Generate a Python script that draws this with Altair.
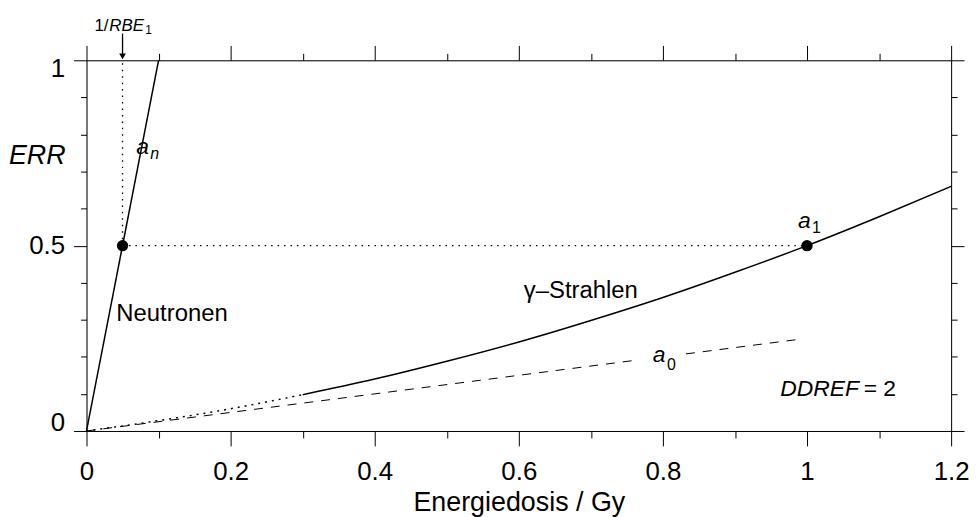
import altair as alt
import pandas as pd

FONT = "Liberation Sans"

# axis tick values
X_MAJOR = [0, 0.2, 0.4, 0.6, 0.8, 1.0, 1.2]
X_MINOR = [0.1, 0.3, 0.5, 0.7, 0.9, 1.1]
Y_MAJOR = [0, 0.5, 1]
Y_MINOR = [0.1, 0.2, 0.3, 0.4, 0.6, 0.7, 0.8, 0.9]

# neutron line
neutron_x = [0, 0.1]
neutron_y = [0, 1]

# gamma-ray curve (dotted low-dose part, solid part)
gamma_dot_x = [0, 0.1, 0.2, 0.3]
gamma_dot_y = [0, 0.028, 0.06, 0.098]
gamma_x = [0.3, 0.4, 0.5, 0.6, 0.7, 0.8, 0.9, 1.0, 1.1, 1.2]
gamma_y = [0.098, 0.14, 0.188, 0.24, 0.298, 0.36, 0.428, 0.5, 0.578, 0.66]

# linear term a0 (dashed, broken around its label)
a0_x = [0, 0.767, 0.832, 0.99]
a0_y = [0, 0.192, 0.208, 0.2475]
a0_seg = [1, 1, 2, 2]

# dotted guide lines
guide_x = [0.05, 0.05, 0.05, 1.0]
guide_y = [0.5, 1.0, 0.5, 0.5]
guide_seg = [1, 1, 2, 2]

# marked points
pt_x = [0.05, 1.0]
pt_y = [0.5, 0.5]

# arrow for 1/RBE1
arrow_x = [0.05, 0.05]
arrow_y = [1.072, 1.012]
arrowhead_x = [0.05]
arrowhead_y = [1.0]

# annotations (italic)
it_text = ["a", "n", "a", "a", "DDREF", "RBE", "ERR"]
it_x = [0.069, 0.0883, 0.9876, 0.786, 0.963, 0.0317, -0.029]
it_y = [0.748, 0.7346, 0.547, 0.185, 0.094, 1.078, 0.721]
it_size = [23, 16, 23, 23, 23, 17, 27]
it_align = ["left", "left", "left", "left", "left", "left", "right"]

# annotations (upright)
rm_text = ["1", "0", "Neutronen", "\u03b3\u2013Strahlen", "= 2", "1/", "1"]
rm_x = [1.0069, 0.8055, 0.0414, 0.607, 1.0786, 0.011, 0.0814]
rm_y = [0.5335, 0.1635, 0.2976, 0.359, 0.094, 1.078, 1.0697]
rm_size = [16, 16, 24, 24, 23, 17, 12]

XS = alt.Scale(domain=[0, 1.2], nice=False, zero=False)
YS = alt.Scale(domain=[0, 1], nice=False, zero=False)

common = dict(domainColor="black", tickColor="black", labelColor="black",
              titleColor="black", grid=False, domainWidth=1, tickWidth=1,
              labelFont=FONT, titleFont=FONT)

ax_x_major_b = alt.Axis(orient="bottom", values=X_MAJOR, tickSize=15, labelFontSize=26,
                        labelPadding=13, format="~g", labelFlush=False,
                        title="Energiedosis / Gy", titleFontSize=27, titleFontWeight="normal",
                        titleY=80, titleBaseline="alphabetic", **common)
ax_x_minor_b = alt.Axis(orient="bottom", values=X_MINOR, tickSize=7, labels=False,
                        domain=False, title=None, **common)
ax_x_major_t = alt.Axis(orient="top", values=X_MAJOR, tickSize=15, labels=False,
                        title=None, **common)
ax_x_minor_t = alt.Axis(orient="top", values=X_MINOR, tickSize=7, labels=False,
                        domain=False, title=None, **common)

ax_y_major_l = alt.Axis(orient="left", values=Y_MAJOR, tickSize=13, labelFontSize=26,
                        labelPadding=9, format="~g", labelFlush=True, labelFlushOffset=5,
                        title=None, **common)
ax_y_minor_l = alt.Axis(orient="left", values=Y_MINOR, tickSize=6, labels=False,
                        domain=False, title=None, **common)
ax_y_major_r = alt.Axis(orient="right", values=Y_MAJOR, tickSize=13, labels=False,
                        title=None, **common)
ax_y_minor_r = alt.Axis(orient="right", values=Y_MINOR, tickSize=6, labels=False,
                        domain=False, title=None, **common)


def enc(xaxis=None, yaxis=None):
    return dict(
        x=alt.X("x:Q", scale=XS, axis=xaxis),
        y=alt.Y("y:Q", scale=YS, axis=yaxis),
    )


neutron = alt.Chart(pd.DataFrame({"x": neutron_x, "y": neutron_y})).mark_line(
    color="black", strokeWidth=1.5).encode(**enc(ax_x_major_b, ax_y_major_l))

gamma = alt.Chart(pd.DataFrame({"x": gamma_x, "y": gamma_y})).mark_line(
    color="black", strokeWidth=1.5, interpolate="monotone").encode(**enc(ax_x_minor_b, ax_y_minor_l))

a0 = alt.Chart(pd.DataFrame({"x": a0_x, "y": a0_y, "s": a0_seg})).mark_line(
    color="black", strokeWidth=1, strokeDash=[9, 8]).encode(
    detail="s:N", **enc(ax_x_major_t, ax_y_major_r))

gamma_dot = alt.Chart(pd.DataFrame({"x": gamma_dot_x, "y": gamma_dot_y})).mark_line(
    color="black", strokeWidth=1.5, strokeDash=[2, 5], interpolate="monotone").encode(
    **enc(ax_x_minor_t, ax_y_minor_r))

guides = alt.Chart(pd.DataFrame({"x": guide_x, "y": guide_y, "s": guide_seg})).mark_line(
    color="black", strokeWidth=1.3, strokeDash=[1.5, 5]).encode(detail="s:N", **enc())

points = alt.Chart(pd.DataFrame({"x": pt_x, "y": pt_y})).mark_circle(
    color="black", opacity=1, size=130).encode(**enc())

arrow = alt.Chart(pd.DataFrame({"x": arrow_x, "y": arrow_y})).mark_line(
    color="black", strokeWidth=1.3).encode(**enc())

arrowhead = alt.Chart(pd.DataFrame({"x": arrowhead_x, "y": arrowhead_y})).mark_point(
    shape="triangle-down", filled=True, color="black", opacity=1, size=45, yOffset=-4).encode(**enc())

it_df = pd.DataFrame({"x": it_x, "y": it_y, "t": it_text, "fs": it_size, "al": it_align})
it_left = alt.Chart(it_df[it_df["al"] == "left"]).mark_text(
    align="left", baseline="alphabetic", font=FONT, fontStyle="italic", color="black").encode(
    text="t:N", size=alt.Size("fs:Q", scale=None, legend=None), **enc())
it_right = alt.Chart(it_df[it_df["al"] == "right"]).mark_text(
    align="right", baseline="alphabetic", font=FONT, fontStyle="italic", color="black").encode(
    text="t:N", size=alt.Size("fs:Q", scale=None, legend=None), **enc())

rm_labels = alt.Chart(pd.DataFrame({"x": rm_x, "y": rm_y, "t": rm_text, "fs": rm_size})).mark_text(
    align="left", baseline="alphabetic", font=FONT, color="black").encode(
    text="t:N", size=alt.Size("fs:Q", scale=None, legend=None), **enc())

chart = alt.layer(
    neutron, gamma, a0, gamma_dot, guides, points, arrow, arrowhead, it_left, it_right, rm_labels
).resolve_axis(x="independent", y="independent").properties(
    width=870, height=373,
    autosize=alt.AutoSizeParams(type="none"),
    padding={"left": 79, "top": 51, "right": 20, "bottom": 95},
).configure_view(stroke=None).configure(background="white")

chart.save("out.html", embed_options={"renderer": "svg", "actions": False})
